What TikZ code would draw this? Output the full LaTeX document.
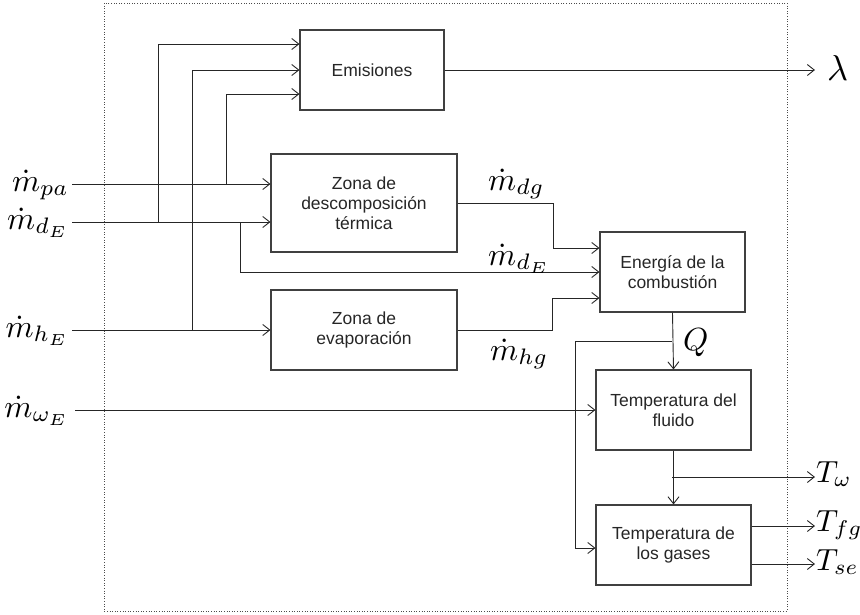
\documentclass[tikz,border=0pt]{standalone}
\usepackage{graphicx}
\usepackage{fontspec}
\setmainfont{Liberation Sans}
\usetikzlibrary{arrows.meta}
\newcommand{\mbig}[1]{\scalebox{3.2}{$#1$}}
\newcommand{\tbig}[1]{\scalebox{3.05}{$#1$}}
\begin{document}
\begin{tikzpicture}[x=1pt,y=-1pt,
  line/.style={draw=black!85, line width=0.9pt},
  arr/.style={line, -{Straight Barb[length=7pt,width=11pt,line width=0.9pt]}},
  blk/.style={draw=black!75, line width=1.1pt, rectangle, inner sep=0pt, align=center,
    text=black!85, font=\fontsize{17.5}{20}\selectfont},
  mlab/.style={inner sep=0pt, font=\fontsize{10}{10}\selectfont},
  frame/.style={draw=black!70, line width=0.8pt, dash pattern=on 1pt off 1.6pt}]
\useasboundingbox (0,0) rectangle (860,614);
\draw[frame] (104,3) rectangle (787,611);

% blocks
\node[blk, minimum width=144pt, minimum height=80pt] (emis) at (372,70) {Emisiones};
\node[blk, minimum width=186pt, minimum height=98pt] (zdesc) at (364,203) {Zona de\\descomposición\\térmica};
\node[blk, minimum width=186pt, minimum height=80pt] (zevap) at (364,330) {Zona de\\evaporación};
\node[blk, minimum width=145pt, minimum height=80pt] (energ) at (672.5,272) {Energía de la\\combustión};
\node[blk, minimum width=155pt, minimum height=80pt] (tfluid) at (673.5,410) {Temperatura del\\fluido};
\node[blk, minimum width=155pt, minimum height=80pt] (tgas) at (673.5,545) {Temperatura de\\los gases};

% input points and labels
\coordinate (inpa) at (72,184);
\coordinate (indE) at (72,222);
\coordinate (inhE) at (72,330);
\coordinate (inwE) at (75,410);
\node[mlab, anchor=base east] (lpa) at (69,191) {\mbig{\dot m_{pa}}};
\node[mlab, anchor=base east] (ldE) at (69,229) {\mbig{\dot m_{d_E}}};
\node[mlab, anchor=base east] (lhE) at (69,337) {\mbig{\dot m_{h_E}}};
\node[mlab, anchor=base east] (lwE) at (69,417) {\mbig{\dot m_{\omega_E}}};

% branch coordinates
\coordinate (bpa) at (226,184);
\coordinate (bdE1) at (158,222);
\coordinate (bdE2) at (240,222);
\coordinate (bhE) at (192,330);
\coordinate (bQ) at (672,341);
\coordinate (bTw) at (672,477);
\coordinate (kdg) at (553,203);
\coordinate (khg) at (552,330);
\coordinate (kQ) at (575,341);

% main input lines
\draw[arr] (inpa) -- (inpa -| zdesc.west);
\draw[arr] (indE) -- (indE -| zdesc.west);
\draw[arr] (inhE) -- (inhE -| zevap.west);
\draw[arr] (inwE) -- (inwE -| tfluid.west);

% branches to Emisiones
\draw[arr] (bdE1) |- ([yshift=26pt]emis.west);
\draw[arr] (bhE) |- (emis.west);
\draw[arr] (bpa) |- ([yshift=-24pt]emis.west);

% to energy
\draw[arr] (zdesc.east) -- (kdg) |- ([yshift=24pt]energ.west);
\draw[arr] (bdE2) |- (energ.west);
\draw[arr] (zevap.east) -- (khg) |- ([yshift=-26pt]energ.west);
\node[mlab, anchor=base west] (ldg) at (488,190) {\mbig{\dot m_{dg}}};
\node[mlab, anchor=base west] (ldE2) at (488,265) {\mbig{\dot m_{d_E}}};
\node[mlab, anchor=base west] (lhg) at (490,360) {\mbig{\dot m_{hg}}};

% Q
\draw[arr] (energ.south) -- (tfluid.north);
\node[mlab, anchor=base west] (lQ) at (683,350) {\mbig{Q}};
\draw[arr] (bQ) -- (kQ) |- ([yshift=-3pt]tgas.west);

% fluid to gases
\draw[arr] (tfluid.south) -- (tgas.north);

% outputs
\coordinate (olam) at (815,70);
\coordinate (oTw) at (815,477);
\coordinate (oTfg) at (815,526);
\coordinate (oTse) at (815,564);
\draw[arr] (emis.east) -- (olam);
\draw[arr] (bTw) -- (oTw);
\draw[arr] ([yshift=19pt]tgas.east) -- (oTfg);
\draw[arr] ([yshift=-19pt]tgas.east) -- (oTse);
\node[mlab, anchor=base west] (llam) at (827,80) {\scalebox{3.6}{$\lambda$}};
\node[mlab, anchor=base west] (lTw) at (816,482) {\tbig{T_\omega}};
\node[mlab, anchor=base west] (lTfg) at (816,531) {\tbig{T_{fg}}};
\node[mlab, anchor=base west] (lTse) at (816,570) {\tbig{T_{se}}};
\end{tikzpicture}
\end{document}
